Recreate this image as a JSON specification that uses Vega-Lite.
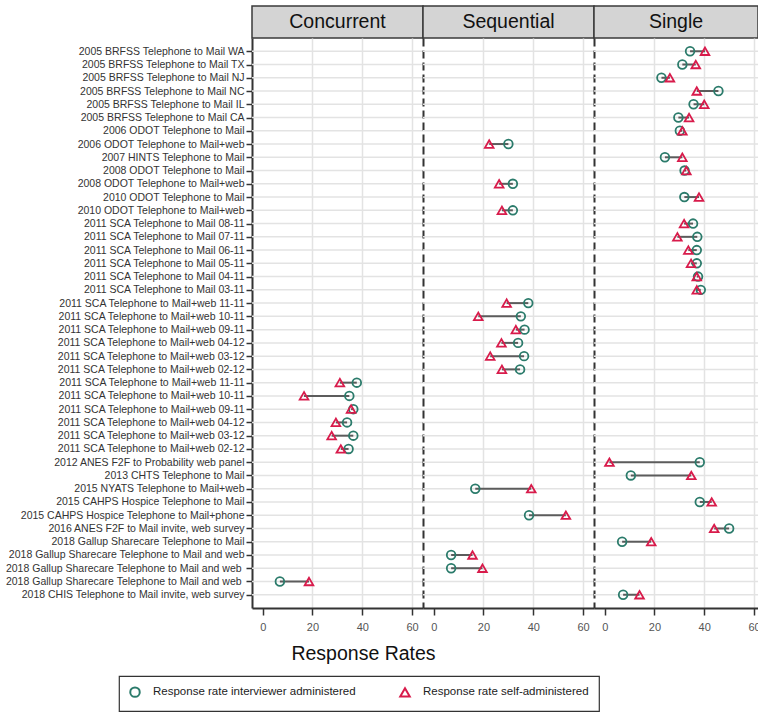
{
  "$schema": "https://vega.github.io/schema/vega-lite/v6.json",
  "padding": {"left": 5, "top": 5, "right": 0, "bottom": 0},
  "background": "white",
  "datasets": {
    "rates": [
      {"order": 1, "label": "2005 BRFSS Telephone to Mail WA", "panel": "Single", "iv": 34.3, "sa": 40.3},
      {"order": 2, "label": "2005 BRFSS Telephone to Mail TX", "panel": "Single", "iv": 31.2, "sa": 36.6},
      {"order": 3, "label": "2005 BRFSS Telephone to Mail NJ", "panel": "Single", "iv": 22.8, "sa": 26.2},
      {"order": 4, "label": "2005 BRFSS Telephone to Mail NC", "panel": "Single", "iv": 45.7, "sa": 37.0},
      {"order": 5, "label": "2005 BRFSS Telephone to Mail IL", "panel": "Single", "iv": 35.7, "sa": 40.0},
      {"order": 6, "label": "2005 BRFSS Telephone to Mail CA", "panel": "Single", "iv": 29.6, "sa": 33.9},
      {"order": 7, "label": "2006 ODOT Telephone to Mail\u00a0", "panel": "Single", "iv": 30.2, "sa": 31.2},
      {"order": 8, "label": "2006 ODOT Telephone to Mail+web\u00a0", "panel": "Sequential", "iv": 30.0, "sa": 22.3},
      {"order": 9, "label": "2007 HINTS Telephone to Mail\u00a0", "panel": "Single", "iv": 24.2, "sa": 31.2},
      {"order": 10, "label": "2008 ODOT Telephone to Mail\u00a0", "panel": "Single", "iv": 32.1, "sa": 32.8},
      {"order": 11, "label": "2008 ODOT Telephone to Mail+web\u00a0", "panel": "Sequential", "iv": 31.8, "sa": 26.3},
      {"order": 12, "label": "2010 ODOT Telephone to Mail\u00a0", "panel": "Single", "iv": 32.0, "sa": 37.9},
      {"order": 13, "label": "2010 ODOT Telephone to Mail+web\u00a0", "panel": "Sequential", "iv": 31.8, "sa": 27.4},
      {"order": 14, "label": "2011 SCA Telephone to Mail 08-11", "panel": "Single", "iv": 35.5, "sa": 31.9},
      {"order": 15, "label": "2011 SCA Telephone to Mail 07-11", "panel": "Single", "iv": 37.2, "sa": 29.2},
      {"order": 16, "label": "2011 SCA Telephone to Mail 06-11", "panel": "Single", "iv": 37.0, "sa": 33.6},
      {"order": 17, "label": "2011 SCA Telephone to Mail 05-11", "panel": "Single", "iv": 37.0, "sa": 34.7},
      {"order": 18, "label": "2011 SCA Telephone to Mail 04-11", "panel": "Single", "iv": 37.5, "sa": 37.0},
      {"order": 19, "label": "2011 SCA Telephone to Mail 03-11", "panel": "Single", "iv": 38.6, "sa": 37.0},
      {"order": 20, "label": "2011 SCA Telephone to Mail+web 11-11", "panel": "Sequential", "iv": 38.0, "sa": 29.3},
      {"order": 21, "label": "2011 SCA Telephone to Mail+web 10-11", "panel": "Sequential", "iv": 35.0, "sa": 17.9},
      {"order": 22, "label": "2011 SCA Telephone to Mail+web 09-11", "panel": "Sequential", "iv": 36.5, "sa": 33.0},
      {"order": 23, "label": "2011 SCA Telephone to Mail+web 04-12", "panel": "Sequential", "iv": 33.9, "sa": 27.2},
      {"order": 24, "label": "2011 SCA Telephone to Mail+web 03-12", "panel": "Sequential", "iv": 36.3, "sa": 22.7},
      {"order": 25, "label": "2011 SCA Telephone to Mail+web 02-12", "panel": "Sequential", "iv": 34.7, "sa": 27.4},
      {"order": 26, "label": "2011 SCA Telephone to Mail+web 11-11\u200b", "panel": "Concurrent", "iv": 37.8, "sa": 31.0},
      {"order": 27, "label": "2011 SCA Telephone to Mail+web 10-11\u200b", "panel": "Concurrent", "iv": 34.8, "sa": 16.6},
      {"order": 28, "label": "2011 SCA Telephone to Mail+web 09-11\u200b", "panel": "Concurrent", "iv": 36.4, "sa": 35.5},
      {"order": 29, "label": "2011 SCA Telephone to Mail+web 04-12\u200b", "panel": "Concurrent", "iv": 33.9, "sa": 29.4},
      {"order": 30, "label": "2011 SCA Telephone to Mail+web 03-12\u200b", "panel": "Concurrent", "iv": 36.4, "sa": 27.7},
      {"order": 31, "label": "2011 SCA Telephone to Mail+web 02-12\u200b", "panel": "Concurrent", "iv": 34.5, "sa": 31.4},
      {"order": 32, "label": "2012 ANES F2F to Probability web panel\u00a0", "panel": "Single", "iv": 38.2, "sa": 1.9},
      {"order": 33, "label": "2013 CHTS Telephone to Mail\u00a0", "panel": "Single", "iv": 10.5, "sa": 34.8},
      {"order": 34, "label": "2015 NYATS Telephone to Mail+web\u00a0", "panel": "Sequential", "iv": 16.7, "sa": 39.2},
      {"order": 35, "label": "2015 CAHPS Hospice Telephone to Mail\u00a0", "panel": "Single", "iv": 38.2, "sa": 43.0},
      {"order": 36, "label": "2015 CAHPS Hospice Telephone to Mail+phone\u00a0", "panel": "Sequential", "iv": 38.3, "sa": 53.1},
      {"order": 37, "label": "2016 ANES F2F to Mail invite, web survey\u00a0", "panel": "Single", "iv": 50.0, "sa": 44.0},
      {"order": 38, "label": "2018 Gallup Sharecare Telephone to Mail\u00a0", "panel": "Single", "iv": 7.0, "sa": 18.7},
      {"order": 39, "label": "2018 Gallup Sharecare Telephone to Mail and web\u00a0", "panel": "Sequential", "iv": 7.0, "sa": 15.6},
      {"order": 40, "label": "2018 Gallup Sharecare Telephone to Mail and web\u00a0\u200b", "panel": "Sequential", "iv": 7.0, "sa": 19.6},
      {"order": 41, "label": "2018 Gallup Sharecare Telephone to Mail and web\u00a0\u200b\u200b", "panel": "Concurrent", "iv": 6.9, "sa": 18.6},
      {"order": 42, "label": "2018 CHIS Telephone to Mail invite, web survey\u00a0", "panel": "Single", "iv": 7.4, "sa": 14.0}
    ]
  },
  "columns": 3,
  "spacing": 0,
  "bounds": "flush",
  "resolve": {"scale": {"color": "shared", "shape": "shared"}},
  "concat": [
    {
      "width": 171, "height": 32,
      "data": {"values": [{"panel": "Concurrent"}]},
      "mark": {"type": "text", "fontSize": 19.5, "color": "#111", "baseline": "middle", "align": "center"},
      "encoding": {"text": {"field": "panel"}},
      "view": {"fill": "#d4d4d4", "stroke": "#3a3a3a", "strokeWidth": 1.5}
    },
    {
      "width": 171, "height": 32,
      "data": {"values": [{"panel": "Sequential"}]},
      "mark": {"type": "text", "fontSize": 19.5, "color": "#111", "baseline": "middle", "align": "center"},
      "encoding": {"text": {"field": "panel"}},
      "view": {"fill": "#d4d4d4", "stroke": "#3a3a3a", "strokeWidth": 1.5}
    },
    {
      "width": 164, "height": 32,
      "data": {"values": [{"panel": "Single"}]},
      "mark": {"type": "text", "fontSize": 19.5, "color": "#111", "baseline": "middle", "align": "center"},
      "encoding": {"text": {"field": "panel"}},
      "view": {"fill": "#d4d4d4", "stroke": "#3a3a3a", "strokeWidth": 1.5}
    },
    {
      "width": 171, "height": 570,
      "data": {"name": "rates"},
      "layer": [
        {
          "mark": {"type": "rule", "color": "#e3e3e3", "strokeWidth": 1.5},
          "encoding": {
            "y": {"field": "label", "type": "nominal", "sort": {"field": "order", "op": "min"}, "scale": {"type": "point", "padding": 1.1}, "title": null,
              "axis": {"labelFontSize": 10.5, "labelColor": "#333", "labelLimit": 400, "labelPadding": 2, "tickSize": 6, "tickWidth": 1.5, "domainWidth": 2, "grid": false}}
          }
        },
        {
          "transform": [{"filter": "datum.panel === 'Concurrent'"}],
          "mark": {"type": "rule", "color": "#5c5c5c", "strokeWidth": 2},
          "encoding": {
            "y": {"field": "label", "type": "nominal", "sort": {"field": "order", "op": "min"}, "title": null},
            "x": {"field": "iv", "type": "quantitative", "scale": {"domain": [-4.3, 64.4], "nice": false, "zero": false}, "title": "Response Rates",
              "axis": {"values": [0, 20, 40, 60], "labelFontSize": 11, "labelColor": "#555", "tickSize": 7, "tickWidth": 1.5, "labelPadding": 6, "domainWidth": 2, "grid": true,
                "gridOpacity": {"condition": {"test": "datum.value === 0", "value": 0}, "value": 1},
                "titleFontSize": 19.5, "titleColor": "#111", "titleFontWeight": "normal", "titleX": 111, "titleY": 51, "titleAlign": "center", "titleBaseline": "alphabetic"}},
            "x2": {"field": "sa"}
          }
        },
        {
          "transform": [{"filter": "datum.panel === 'Concurrent'"}, {"fold": ["iv", "sa"], "as": ["mode", "rate"]}],
          "mark": {"type": "point", "filled": false, "strokeWidth": 1.8, "size": 75, "opacity": 1},
          "encoding": {
            "y": {"field": "label", "type": "nominal", "sort": {"field": "order", "op": "min"}, "title": null},
            "x": {"field": "rate", "type": "quantitative", "title": "Response Rates"},
            "color": {"field": "mode", "type": "nominal", "scale": {"domain": ["iv", "sa"], "range": ["#2b7b6b", "#d81b4b"]},
              "legend": {"orient": "none", "legendX": -133, "legendY": 670, "direction": "horizontal", "columns": 2, "title": null, "labelExpr": "datum.label === 'iv' ? 'Response rate interviewer administered' : 'Response rate self-administered'"}},
            "shape": {"field": "mode", "type": "nominal", "scale": {"domain": ["iv", "sa"], "range": ["circle", "triangle-up"]},
              "legend": {"orient": "none", "legendX": -133, "legendY": 670, "direction": "horizontal", "columns": 2, "title": null, "labelExpr": "datum.label === 'iv' ? 'Response rate interviewer administered' : 'Response rate self-administered'"}}
          }
        }
      ]
    },
    {
      "width": 171, "height": 570,
      "data": {"name": "rates"},
      "layer": [
        {
          "mark": {"type": "rule", "color": "#e3e3e3", "strokeWidth": 1.5},
          "encoding": {
            "y": {"field": "label", "type": "nominal", "sort": {"field": "order", "op": "min"}, "scale": {"type": "point", "padding": 1.1}, "title": null,
              "axis": {"labels": false, "ticks": false, "domainWidth": 2, "domainDash": [8, 4], "grid": false}}
          }
        },
        {
          "transform": [{"filter": "datum.panel === 'Sequential'"}],
          "mark": {"type": "rule", "color": "#5c5c5c", "strokeWidth": 2},
          "encoding": {
            "y": {"field": "label", "type": "nominal", "sort": {"field": "order", "op": "min"}, "title": null},
            "x": {"field": "iv", "type": "quantitative", "scale": {"domain": [-4.3, 64.4], "nice": false, "zero": false}, "title": null,
              "axis": {"values": [0, 20, 40, 60], "labelFontSize": 11, "labelColor": "#555", "tickSize": 7, "tickWidth": 1.5, "labelPadding": 6, "domainWidth": 2, "grid": true,
                "gridOpacity": {"condition": {"test": "datum.value === 0", "value": 0}, "value": 1}}},
            "x2": {"field": "sa"}
          }
        },
        {
          "transform": [{"filter": "datum.panel === 'Sequential'"}, {"fold": ["iv", "sa"], "as": ["mode", "rate"]}],
          "mark": {"type": "point", "filled": false, "strokeWidth": 1.8, "size": 75, "opacity": 1},
          "encoding": {
            "y": {"field": "label", "type": "nominal", "sort": {"field": "order", "op": "min"}, "title": null},
            "x": {"field": "rate", "type": "quantitative", "title": null},
            "color": {"field": "mode", "type": "nominal", "scale": {"domain": ["iv", "sa"], "range": ["#2b7b6b", "#d81b4b"]},
              "legend": {"orient": "none", "legendX": -133, "legendY": 670, "direction": "horizontal", "columns": 2, "title": null, "labelExpr": "datum.label === 'iv' ? 'Response rate interviewer administered' : 'Response rate self-administered'"}},
            "shape": {"field": "mode", "type": "nominal", "scale": {"domain": ["iv", "sa"], "range": ["circle", "triangle-up"]},
              "legend": {"orient": "none", "legendX": -133, "legendY": 670, "direction": "horizontal", "columns": 2, "title": null, "labelExpr": "datum.label === 'iv' ? 'Response rate interviewer administered' : 'Response rate self-administered'"}}
          }
        }
      ]
    },
    {
      "width": 164, "height": 570,
      "data": {"name": "rates"},
      "layer": [
        {
          "mark": {"type": "rule", "color": "#e3e3e3", "strokeWidth": 1.5},
          "encoding": {
            "y": {"field": "label", "type": "nominal", "sort": {"field": "order", "op": "min"}, "scale": {"type": "point", "padding": 1.1}, "title": null,
              "axis": {"labels": false, "ticks": false, "domainWidth": 2, "domainDash": [8, 4], "grid": false}}
          }
        },
        {
          "transform": [{"filter": "datum.panel === 'Single'"}],
          "mark": {"type": "rule", "color": "#5c5c5c", "strokeWidth": 2},
          "encoding": {
            "y": {"field": "label", "type": "nominal", "sort": {"field": "order", "op": "min"}, "title": null},
            "x": {"field": "iv", "type": "quantitative", "scale": {"domain": [-4.3, 61.6], "nice": false, "zero": false}, "title": null,
              "axis": {"values": [0, 20, 40, 60], "labelFontSize": 11, "labelColor": "#555", "tickSize": 7, "tickWidth": 1.5, "labelPadding": 6, "domainWidth": 2, "grid": true,
                "gridOpacity": {"condition": {"test": "datum.value === 0", "value": 0}, "value": 1}}},
            "x2": {"field": "sa"}
          }
        },
        {
          "transform": [{"filter": "datum.panel === 'Single'"}, {"fold": ["iv", "sa"], "as": ["mode", "rate"]}],
          "mark": {"type": "point", "filled": false, "strokeWidth": 1.8, "size": 75, "opacity": 1},
          "encoding": {
            "y": {"field": "label", "type": "nominal", "sort": {"field": "order", "op": "min"}, "title": null},
            "x": {"field": "rate", "type": "quantitative", "title": null},
            "color": {"field": "mode", "type": "nominal", "scale": {"domain": ["iv", "sa"], "range": ["#2b7b6b", "#d81b4b"]},
              "legend": {"orient": "none", "legendX": -133, "legendY": 670, "direction": "horizontal", "columns": 2, "title": null, "labelExpr": "datum.label === 'iv' ? 'Response rate interviewer administered' : 'Response rate self-administered'"}},
            "shape": {"field": "mode", "type": "nominal", "scale": {"domain": ["iv", "sa"], "range": ["circle", "triangle-up"]},
              "legend": {"orient": "none", "legendX": -133, "legendY": 670, "direction": "horizontal", "columns": 2, "title": null, "labelExpr": "datum.label === 'iv' ? 'Response rate interviewer administered' : 'Response rate self-administered'"}}
          }
        }
      ]
    }
  ],
  "config": {
    "font": "Liberation Sans, Arial, sans-serif",
    "view": {"stroke": null},
    "axis": {"gridColor": "#e3e3e3", "gridWidth": 1.5, "domainColor": "#333", "tickColor": "#333"},
    "legend": {"strokeColor": "#333", "strokeWidth": 1.2, "fillColor": "white", "padding": 10, "columnPadding": 40, "labelFontSize": 11.5, "labelColor": "#222", "labelLimit": 400, "symbolStrokeWidth": 2, "symbolSize": 90, "gridAlign": "all", "labelOffset": 12}
  }
}
